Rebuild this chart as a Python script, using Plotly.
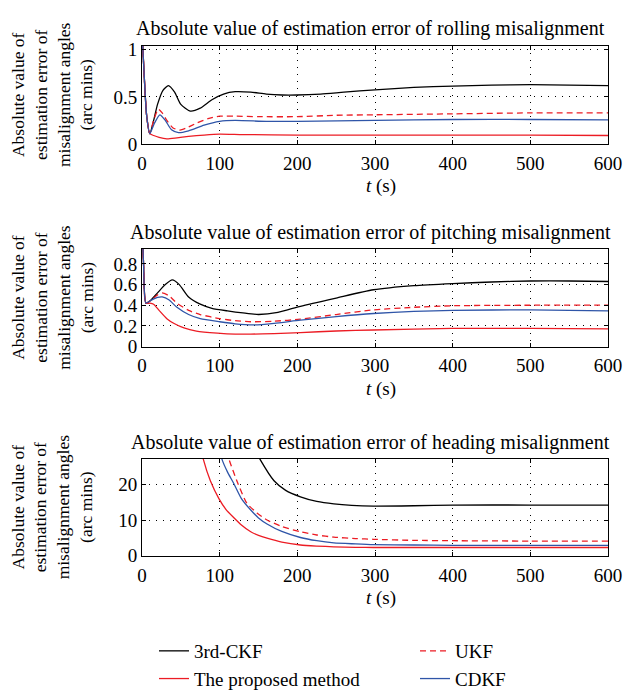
import plotly.graph_objects as go

# ---------------- data ----------------
# Panel 1: rolling
roll_ckf_t = [0, 3, 6, 10, 15, 20, 27, 34, 42, 50, 62, 75, 90, 105, 120, 140, 160, 180, 200, 230, 260, 300, 350, 400, 450, 500, 550, 600]
roll_ckf_v = [1.2, 0.7, 0.3, 0.11, 0.25, 0.42, 0.57, 0.62, 0.55, 0.42, 0.35, 0.38, 0.47, 0.53, 0.555, 0.55, 0.53, 0.52, 0.52, 0.53, 0.55, 0.575, 0.6, 0.615, 0.625, 0.63, 0.625, 0.62]
roll_ukf_t = [0, 3, 6, 10, 15, 21, 26, 32, 40, 49, 57, 70, 85, 100, 120, 150, 200, 250, 300, 400, 500, 600]
roll_ukf_v = [1.2, 0.7, 0.3, 0.11, 0.25, 0.37, 0.33, 0.25, 0.17, 0.148, 0.17, 0.22, 0.27, 0.295, 0.295, 0.29, 0.29, 0.305, 0.31, 0.32, 0.33, 0.33]
roll_cdkf_t = [0, 3, 6, 10, 16, 23, 30, 38, 47, 60, 80, 100, 120, 160, 200, 300, 400, 500, 600]
roll_cdkf_v = [1.2, 0.7, 0.3, 0.11, 0.22, 0.31, 0.25, 0.15, 0.12, 0.14, 0.2, 0.24, 0.25, 0.24, 0.24, 0.25, 0.26, 0.26, 0.255]
roll_prop_t = [0, 3, 6, 10, 15, 22, 32, 45, 60, 80, 100, 130, 200, 300, 400, 500, 600]
roll_prop_v = [1.2, 0.7, 0.3, 0.11, 0.09, 0.07, 0.055, 0.065, 0.08, 0.095, 0.105, 0.1, 0.095, 0.095, 0.095, 0.095, 0.09]

# Panel 2: pitching
pitch_ckf_t = [0, 2, 5, 10, 20, 30, 39, 48, 60, 75, 90, 110, 130, 150, 175, 204, 250, 298, 350, 400, 450, 500, 550, 600]
pitch_ckf_v = [1.2, 0.8, 0.42, 0.44, 0.52, 0.6, 0.645, 0.6, 0.48, 0.41, 0.37, 0.345, 0.325, 0.31, 0.33, 0.39, 0.47, 0.55, 0.59, 0.61, 0.625, 0.635, 0.635, 0.63]
pitch_ukf_t = [0, 2, 5, 12, 20, 26, 35, 45, 60, 75, 100, 120, 140, 170, 204, 250, 298, 350, 400, 500, 600]
pitch_ukf_v = [1.2, 0.8, 0.42, 0.45, 0.5, 0.52, 0.49, 0.42, 0.35, 0.31, 0.27, 0.25, 0.24, 0.245, 0.265, 0.31, 0.355, 0.38, 0.395, 0.4, 0.4]
pitch_cdkf_t = [0, 2, 5, 12, 20, 26, 35, 45, 60, 75, 100, 120, 145, 170, 204, 250, 298, 350, 400, 500, 600]
pitch_cdkf_v = [1.2, 0.8, 0.42, 0.45, 0.475, 0.48, 0.45, 0.38, 0.31, 0.27, 0.24, 0.22, 0.21, 0.225, 0.255, 0.29, 0.32, 0.34, 0.35, 0.355, 0.345]
pitch_prop_t = [0, 2, 5, 10, 15, 22, 32, 42, 54, 70, 97, 120, 140, 170, 204, 250, 298, 400, 500, 600]
pitch_prop_v = [1.2, 0.8, 0.42, 0.42, 0.41, 0.35, 0.27, 0.22, 0.18, 0.15, 0.13, 0.12, 0.12, 0.125, 0.135, 0.15, 0.16, 0.175, 0.175, 0.17]

# Panel 3: heading
head_ckf_t = [140, 152, 170, 185, 204, 225, 247, 270, 298, 350, 400, 500, 600]
head_ckf_v = [32, 27, 21, 18.3, 16.5, 15.2, 14.5, 14.1, 13.9, 14.0, 14.2, 14.2, 14.2]
head_ukf_t = [105, 112, 123, 135, 148, 161, 180, 204, 225, 247, 275, 298, 350, 400, 500, 600]
head_ukf_v = [32, 27, 20.5, 14.7, 12, 10, 8.2, 6.7, 5.8, 5.2, 4.8, 4.6, 4.3, 4.2, 4.1, 4.1]
head_cdkf_t = [97, 103, 110, 118, 128, 140, 150, 161, 180, 204, 225, 247, 275, 298, 350, 400, 500, 600]
head_cdkf_v = [32, 27, 23.5, 20.3, 16, 12.8, 10.6, 8.9, 6.8, 5.1, 4.2, 3.6, 3.3, 3.1, 3.0, 2.9, 2.9, 2.9]
head_prop_t = [74, 79, 88, 99, 108, 118, 128, 140, 150, 161, 180, 204, 225, 247, 275, 298, 400, 600]
head_prop_v = [32, 27, 21, 16, 13, 10.7, 8.6, 6.7, 5.7, 4.9, 3.8, 3.0, 2.7, 2.5, 2.35, 2.3, 2.3, 2.3]

x_ticks = [0, 100, 200, 300, 400, 500, 600]
y_ticks = [[0, 0.5, 1], [0, 0.2, 0.4, 0.6, 0.8], [0, 10, 20]]
y_tick_text = [["0", "0.5", "1"], ["0", "0.2", "0.4", "0.6", "0.8"], ["0", "10", "20"]]
y_ranges = [[0, 1.04], [0, 0.945], [0, 27.1]]
titles = ["Absolute value of estimation error of rolling misalignment",
          "Absolute value of estimation error of pitching misalignment",
          "Absolute value of estimation error of heading misalignment"]
names = ["3rd-CKF", "UKF", "The proposed method", "CDKF"]

# ---------------- style ----------------
OFF = 8  # page body margin
W, H = 634 - OFF, 692 - OFF
def xp(px):
    return (px - OFF) / W
def yp(py):
    return 1 - (py - OFF) / H

FONT = "Liberation Serif"
BLACK, RED, BLUE = "#000000", "#ec1c24", "#2f55a8"
styles = [dict(color=BLACK, width=1.3), dict(color=RED, width=1.3, dash="6px,4px"),
          dict(color=RED, width=1.3), dict(color=BLUE, width=1.3)]

x0, x1 = 142, 608
panels_px = [(46, 144), (249, 346.5), (459, 555.7)]

fig = go.Figure()
data = [
    [(roll_ckf_t, roll_ckf_v), (roll_ukf_t, roll_ukf_v), (roll_prop_t, roll_prop_v), (roll_cdkf_t, roll_cdkf_v)],
    [(pitch_ckf_t, pitch_ckf_v), (pitch_ukf_t, pitch_ukf_v), (pitch_prop_t, pitch_prop_v), (pitch_cdkf_t, pitch_cdkf_v)],
    [(head_ckf_t, head_ckf_v), (head_ukf_t, head_ukf_v), (head_prop_t, head_prop_v), (head_cdkf_t, head_cdkf_v)],
]

annotations = []
for i, (top, bot) in enumerate(panels_px):
    n = "" if i == 0 else str(i + 1)
    for k in range(4):
        t, v = data[i][k]
        fig.add_trace(go.Scatter(x=t, y=v, mode="lines", name=names[k],
                                 line=dict(**styles[k], shape="spline", smoothing=0.6),
                                 xaxis="x" + n, yaxis="y" + n, showlegend=(i == 0),
                                 legendrank=k + 1))
    dom_y = [yp(bot), yp(top)]
    axcommon = dict(showline=True, linecolor="black", linewidth=1, mirror="ticks",
                    ticks="inside", ticklen=4, tickcolor="black", automargin=False,
                    showgrid=True, gridcolor="black", gridwidth=1, griddash="1px,6px",
                    zeroline=False, tickfont=dict(family=FONT, size=19, color="black"))
    fig.update_layout(**{
        "xaxis" + n: dict(domain=[xp(x0), xp(x1)], range=[0, 600], tickvals=x_ticks,
                          anchor="y" + n, ticklabelstandoff=2, **axcommon),
        "yaxis" + n: dict(domain=dom_y, range=y_ranges[i], tickvals=y_ticks[i],
                          ticktext=y_tick_text[i], anchor="x" + n, **axcommon),
    })
    annotations.append(dict(text=titles[i], x=xp(370), y=yp(top - 17), xref="paper", yref="paper",
                            xanchor="center", yanchor="middle", showarrow=False,
                            font=dict(family=FONT, size=20, color="black")))
    annotations.append(dict(text="<i>t</i> (s)", x=xp(381), y=yp(bot + 42), xref="paper", yref="paper",
                            xanchor="center", yanchor="middle", showarrow=False,
                            font=dict(family=FONT, size=19, color="black")))
    annotations.append(dict(text="Absolute value of<br>estimation error of<br>misalignment angles<br>(arc mins)",
                            x=xp(52), y=yp((top + bot) / 2), xref="paper", yref="paper",
                            xanchor="center", yanchor="middle", showarrow=False, textangle=-90,
                            font=dict(family=FONT, size=17.5, color="black")))

fig.update_layout(
    width=W, height=H, margin=dict(l=0, r=0, t=0, b=0, autoexpand=False),
    paper_bgcolor="white", plot_bgcolor="white",
    font=dict(family=FONT, size=18, color="black"),
    annotations=annotations,
    legend=dict(orientation="h", x=xp(154), y=yp(632), xanchor="left", yanchor="top",
                entrywidth=216, font=dict(family=FONT, size=19, color="black"),
                traceorder="normal", bgcolor="rgba(0,0,0,0)"),
)

fig.write_html("out.html")
